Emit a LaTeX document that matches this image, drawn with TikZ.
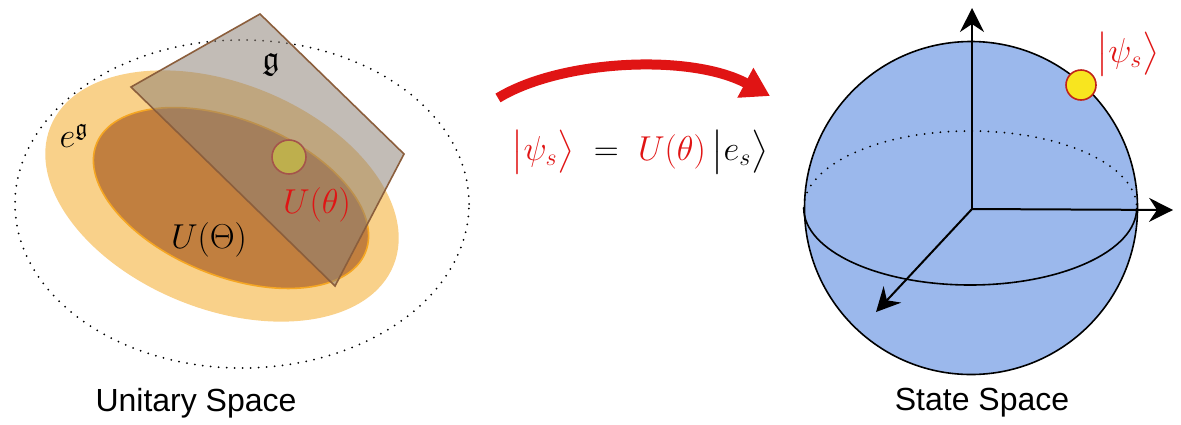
\documentclass[tikz,border=0pt]{standalone}
\usepackage{amsmath, amssymb}
\usepackage{fontspec}
\newfontfamily\labelfont{Liberation Sans}
\usepackage{tikz}
\usetikzlibrary{arrows.meta, calc}
\definecolor{lightorange}{RGB}{249, 209, 138}
\definecolor{darkorange}{RGB}{193, 127, 63}
\definecolor{edgeorange}{RGB}{245, 166, 35}
\definecolor{planegray}{RGB}{140, 128, 118}
\definecolor{planebrown}{RGB}{139, 94, 60}
\definecolor{pointyellow}{RGB}{248, 229, 31}
\definecolor{pointred}{RGB}{192, 36, 27}
\definecolor{sphereblue}{RGB}{155, 184, 236}
\definecolor{mapred}{RGB}{224, 20, 20}
\tikzset{
  >=Stealth,
  axisarrow/.style={-{Stealth[length=12pt, width=12pt, inset=4pt]}, line width=1pt, black},
  maparrow/.style={-{Triangle[length=14pt, width=16pt]}, line width=5pt, mapred},
  dotline/.style={line width=1pt, dash pattern=on 0pt off 4pt, line cap=round},
  statepoint/.style={circle, draw=pointred, fill=pointyellow, line width=0.8pt, inner sep=0pt},
  spacelabel/.style={font=\labelfont\fontsize{16}{19}\selectfont},
  mathlabel/.style={font=\fontsize{17}{20}\selectfont},
  biglabel/.style={font=\fontsize{18}{21}\selectfont}
}

\begin{document}
\begin{tikzpicture}[x=0.5pt, y=0.5pt]
    \useasboundingbox (0,0) rectangle (1181,-424);

    % unitary space
    \draw[dotline] (242,-204) ellipse [x radius=227, y radius=164];
    \fill[lightorange, rotate around={-22:(222,-196)}] (222,-196) ellipse [x radius=185, y radius=113];
    \filldraw[fill=darkorange, draw=edgeorange, line width=0.8pt, rotate around={-22:(231,-198)}] (231,-198) ellipse [x radius=145, y radius=78];
    \node (ustate) [statepoint, minimum size=17pt] at (289,-157) {};
    \filldraw[fill=planegray, fill opacity=0.53, draw=planebrown, line width=0.8pt]
        (260,-14) -- (404,-154) -- (335,-286) -- (131,-87) -- cycle;
    \node (galg) [mathlabel] at (271,-65) {$\mathfrak{g}$};
    \node (expg) [mathlabel] at (74,-136) {$e^{\mathfrak{g}}$};
    \node (bigU) [mathlabel] at (209,-240) {$U(\Theta)$};
    \node (smallU) [mathlabel, mapred] at (317,-205) {$U(\theta)$};
    \node (unitary) [spacelabel] at (196,-403) {Unitary Space};

    % map
    \coordinate (mapstart) at (498,-98);
    \coordinate (mapend) at (770,-96);
    \draw[maparrow] (mapstart) .. controls (560,-60) and (690,-53) .. (mapend);
    \node (eq) [biglabel] at (640,-152)
        {$\color{mapred}\bigl|\psi_s\bigr\rangle\color{black} \;=\; \color{mapred}U(\theta)\,\color{black}\bigl|e_s\bigr\rangle$};

    % state space
    \node (sphere) [circle, draw, fill=sphereblue, line width=0.8pt, minimum size=166.5pt, inner sep=0pt] at (971,-208) {};
    \draw[dotline] (sphere.west) arc [start angle=180, end angle=0, x radius=166.5, y radius=77];
    \draw[line width=0.8pt] (sphere.west) arc [start angle=180, end angle=360, x radius=166.5, y radius=77];
    \coordinate (origin) at (972,-209);
    \coordinate (zaxis) at (972,-8);
    \coordinate (yaxis) at (1173,-210);
    \coordinate (xaxis) at (876,-312);
    \draw[axisarrow] (origin) -- (zaxis);
    \draw[axisarrow] (origin) -- (yaxis);
    \draw[axisarrow] (origin) -- (xaxis);
    \node (psi) [statepoint, minimum size=15pt] at (1081,-85) {};
    \node (psilabel) [biglabel, mapred] at (1128,-54) {$\bigl|\psi_s\bigr\rangle$};
    \node (state) [spacelabel] at (982,-403) {State Space};
\end{tikzpicture}
\end{document}
